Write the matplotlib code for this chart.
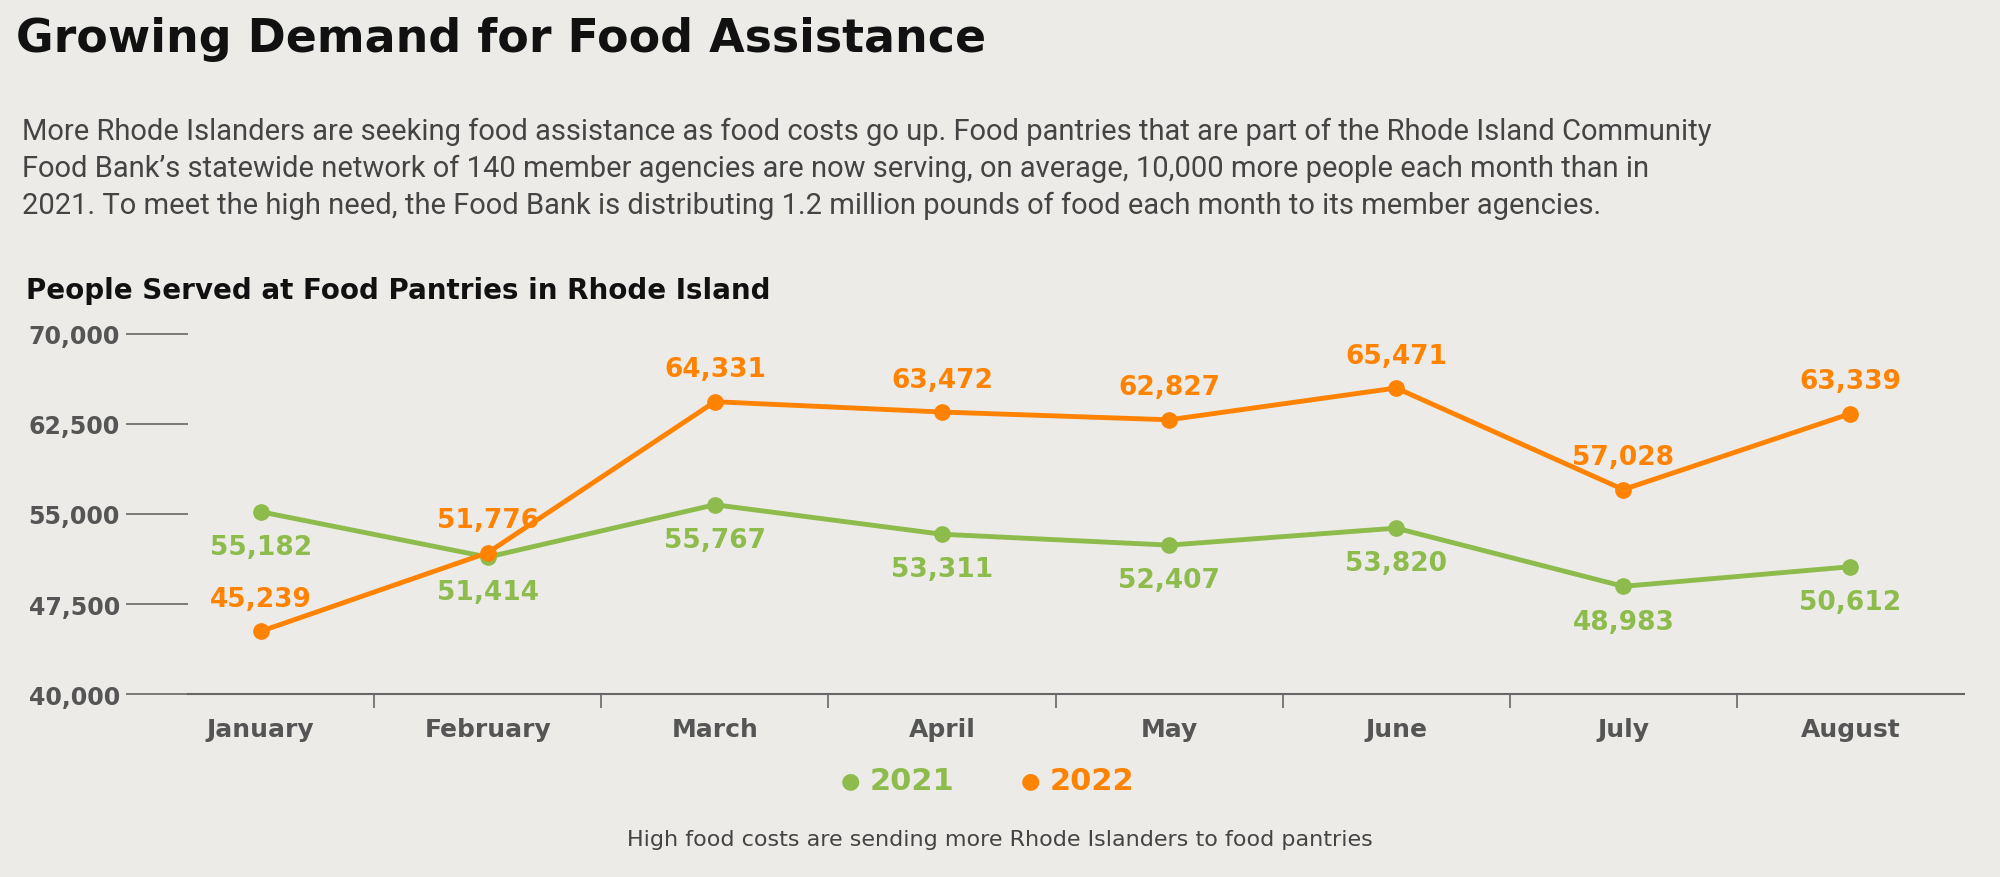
import matplotlib.pyplot as plt

months = ["January", "February", "March", "April", "May", "June", "July", "August"]
y2021 = [55182, 51414, 55767, 53311, 52407, 53820, 48983, 50612]
y2022 = [45239, 51776, 64331, 63472, 62827, 65471, 57028, 63339]
yticks = [40000, 47500, 55000, 62500, 70000]

green = "#8dbb4c"
orange = "#ff8200"
bg = "#ecebe8"

fig = plt.figure(figsize=(20, 8.78), dpi=100, facecolor=bg)
ax = fig.add_axes([0.094, 0.208, 0.888, 0.411], facecolor=bg)

x = range(len(months))
ax.plot(x, y2021, color=green, lw=3.5, marker="o", ms=11, zorder=3)
ax.plot(x, y2022, color=orange, lw=3.5, marker="o", ms=11, zorder=4)

for i in x:
    ax.annotate(f"{y2021[i]:,}", (i, y2021[i]), xytext=(0, -16), textcoords="offset points",
                ha="center", va="top", color=green, fontsize=19, fontweight="bold")
    ax.annotate(f"{y2022[i]:,}", (i, y2022[i]), xytext=(0, 14), textcoords="offset points",
                ha="center", va="bottom", color=orange, fontsize=19, fontweight="bold")

ax.set_xlim(-0.32, 7.5)
ax.set_ylim(40000, 70000)
ax.set_yticks(yticks)
ax.set_yticklabels([f"{v:,}" for v in yticks], fontsize=17, fontweight="bold", color="#555555")
ax.tick_params(axis="y", length=45, width=1.2, color="#666666", pad=4, direction="out")
ax.set_xticks(list(x))
ax.set_xticklabels(months, fontsize=18, fontweight="bold", color="#555555")
ax.tick_params(axis="x", length=0, pad=16)
ax.set_xticks([i + 0.5 for i in range(7)], minor=True)
ax.tick_params(axis="x", which="minor", length=10, width=1.2, color="#666666")
for s in ["top", "right", "left"]:
    ax.spines[s].set_visible(False)
ax.spines["bottom"].set_color("#666666")
ax.spines["bottom"].set_linewidth(1.5)

fig.text(0.008, 0.955, "Growing Demand for Food Assistance", fontsize=33, fontweight="bold",
         va="center", color="#111111")
body = ("More Rhode Islanders are seeking food assistance as food costs go up. Food pantries that are part of the Rhode Island Community\n"
        "Food Bank\u2019s statewide network of 140 member agencies are now serving, on average, 10,000 more people each month than in\n"
        "2021. To meet the high need, the Food Bank is distributing 1.2 million pounds of food each month to its member agencies.")
fig.text(0.011, 0.808, body, fontsize=21, va="center", color="#444444", linespacing=1.4,
         family="Roboto")
fig.text(0.013, 0.668, "People Served at Food Pantries in Rhode Island", fontsize=20,
         fontweight="bold", va="center", color="#111111")

fig.text(0.425, 0.11, "\u25CF", color=green, fontsize=16, va="center", ha="center")
fig.text(0.435, 0.11, "2021", color=green, fontsize=22, fontweight="bold", va="center")
fig.text(0.515, 0.11, "\u25CF", color=orange, fontsize=16, va="center", ha="center")
fig.text(0.525, 0.11, "2022", color=orange, fontsize=22, fontweight="bold", va="center")

fig.text(0.5, 0.043, "High food costs are sending more Rhode Islanders to food pantries",
         fontsize=16, ha="center", va="center", color="#444444")

fig.savefig("out.png", dpi=100, facecolor=bg)
